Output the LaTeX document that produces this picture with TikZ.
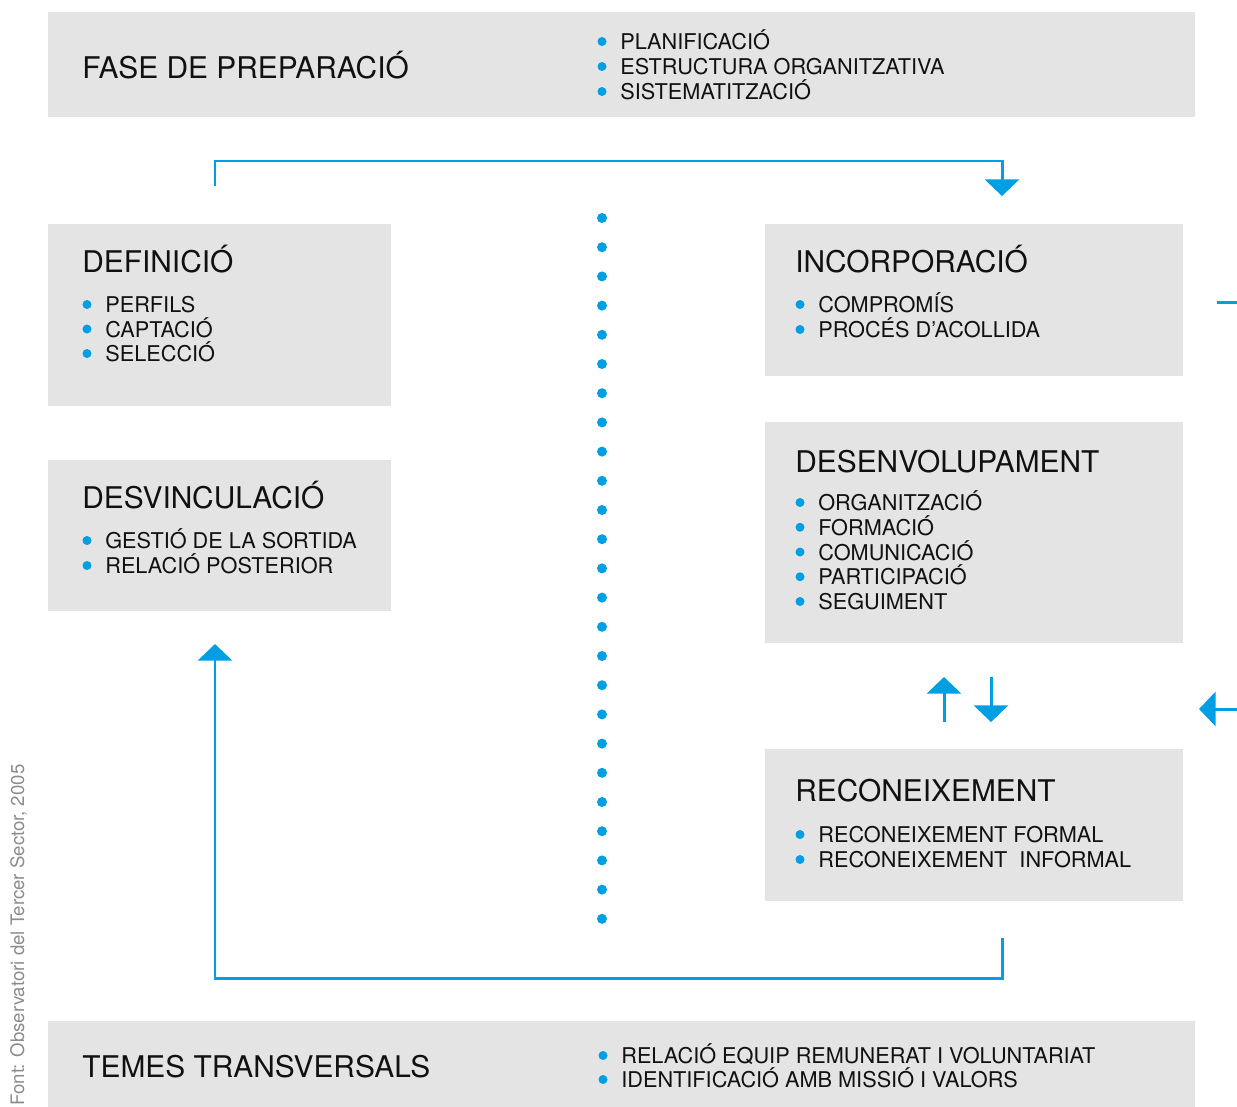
\documentclass[tikz,border=0pt]{standalone}
\usepackage{fontspec}
\setmainfont{TeX Gyre Heros}
\usetikzlibrary{arrows.meta}

\definecolor{vblue}{HTML}{009FE3}
\definecolor{vgray}{HTML}{E4E4E4}
\definecolor{vink}{HTML}{111111}

\begin{document}
\begin{tikzpicture}[x=0.02cm,y=-0.02cm,
    box/.style={fill=vgray,inner sep=0,anchor=north west},
    head/.style={anchor=base west,inner sep=0,text=vink,font=\fontsize{17}{20}\selectfont},
    item/.style={anchor=base west,inner sep=0,text=vink,font=\fontsize{12.35}{14}\selectfont},
    flow/.style={vblue,line width=1.7pt},
    tip/.style={-{Triangle[width=19.5pt,length=9.5pt]}}]
  \useasboundingbox (0,0) rectangle (1237,1106);

  % grey panels
  \node[box,minimum width=1147*0.02cm,minimum height=105*0.02cm] (prep) at (48,12) {};
  \node[box,minimum width=343*0.02cm,minimum height=182*0.02cm] (def) at (48,224) {};
  \node[box,minimum width=343*0.02cm,minimum height=151*0.02cm] (desv) at (48,460) {};
  \node[box,minimum width=418*0.02cm,minimum height=152*0.02cm] (inc) at (765,224) {};
  \node[box,minimum width=418*0.02cm,minimum height=221*0.02cm] (dev) at (765,422) {};
  \node[box,minimum width=418*0.02cm,minimum height=152*0.02cm] (rec) at (765,749) {};
  \node[box,minimum width=1147*0.02cm,minimum height=90*0.02cm] (trans) at (48,1021) {};

  % titles
  \node[head] (prep title) at (82,78.5) {FASE DE PREPARACIÓ};
  \node[head] (def title) at (82,272.5) {DEFINICIÓ};
  \node[head] (desv title) at (82,508) {DESVINCULACIÓ};
  \node[head] (inc title) at (795,272.5) {INCORPORACIÓ};
  \node[head] (dev title) at (795,472) {DESENVOLUPAMENT};
  \node[head] (rec title) at (795,801) {RECONEIXEMENT};
  \node[head] (trans title) at (82,1077) {TEMES TRANSVERSALS};

  % bullet lists
  \foreach \t [count=\i] in {PLANIFICACIÓ,ESTRUCTURA ORGANITZATIVA,SISTEMATITZACIÓ} {
    \fill[vblue] (602,{41.5+25*(\i-1)}) circle[radius=0.09cm];
    \node[item] (prep\i) at (620,{49.5+25*(\i-1)}) {\t};
  }
  \foreach \t [count=\i] in {PERFILS,CAPTACIÓ,SELECCIÓ} {
    \fill[vblue] (87,{304.5+24.5*(\i-1)}) circle[radius=0.09cm];
    \node[item] (def\i) at (105,{312.5+24.5*(\i-1)}) {\t};
  }
  \foreach \t [count=\i] in {GESTIÓ DE LA SORTIDA,RELACIÓ POSTERIOR} {
    \fill[vblue] (87,{540.5+25*(\i-1)}) circle[radius=0.09cm];
    \node[item] (desv\i) at (105,{548.5+25*(\i-1)}) {\t};
  }
  \foreach \t [count=\i] in {COMPROMÍS,PROCÉS D’ACOLLIDA} {
    \fill[vblue] (800,{304.5+25*(\i-1)}) circle[radius=0.09cm];
    \node[item] (inc\i) at (818,{312.5+25*(\i-1)}) {\t};
  }
  \foreach \t [count=\i] in {ORGANITZACIÓ,FORMACIÓ,COMUNICACIÓ,PARTICIPACIÓ,SEGUIMENT} {
    \fill[vblue] (800,{502.5+24.75*(\i-1)}) circle[radius=0.09cm];
    \node[item] (dev\i) at (818,{510.5+24.75*(\i-1)}) {\t};
  }
  \foreach \t [count=\i] in {RECONEIXEMENT FORMAL,RECONEIXEMENT\ \ INFORMAL} {
    \fill[vblue] (800,{834.5+25*(\i-1)}) circle[radius=0.09cm];
    \node[item] (rec\i) at (818,{842.5+25*(\i-1)}) {\t};
  }
  \foreach \t [count=\i] in {RELACIÓ EQUIP REMUNERAT I VOLUNTARIAT,IDENTIFICACIÓ AMB MISSIÓ I VALORS} {
    \fill[vblue] (603,{1055.5+24*(\i-1)}) circle[radius=0.09cm];
    \node[item] (trans\i) at (621,{1063.5+24*(\i-1)}) {\t};
  }

  % dotted divider
  \foreach \i in {0,...,24}
    \fill[vblue] (602,{218+\i*29.2}) circle[radius=0.1cm];

  % connectors
  \coordinate (def out) at (215,186);
  \coordinate (inc in) at (1002,196);
  \coordinate (rec out) at (1002,938);
  \coordinate (desv in) at (215,644);
  \coordinate (up from) at (944,722);
  \coordinate (up to) at (944,677);
  \coordinate (down from) at (991,677);
  \coordinate (down to) at (991,722);
  \coordinate (edge a) at (1217,302);
  \coordinate (edge b) at (1237,302);
  \coordinate (edge c) at (1237,709);
  \coordinate (edge d) at (1199,709);

  \draw[flow,tip] (def out) -- ++(0,-25) -| (inc in);
  \draw[flow,tip] (rec out) -- ++(0,40) -| (desv in);
  \draw[flow,tip] (up from) -- (up to);
  \draw[flow,tip] (down from) -- (down to);
  \draw[flow] (edge a) -- (edge b);
  \draw[flow,tip] (edge c) -- (edge d);

  % source
  \node[rotate=90,anchor=base west,inner sep=0,text=black!45,font=\fontsize{10.6}{12}\selectfont] (src) at (24,1106) {Font: Observatori del Tercer Sector, 2005};
\end{tikzpicture}
\end{document}
